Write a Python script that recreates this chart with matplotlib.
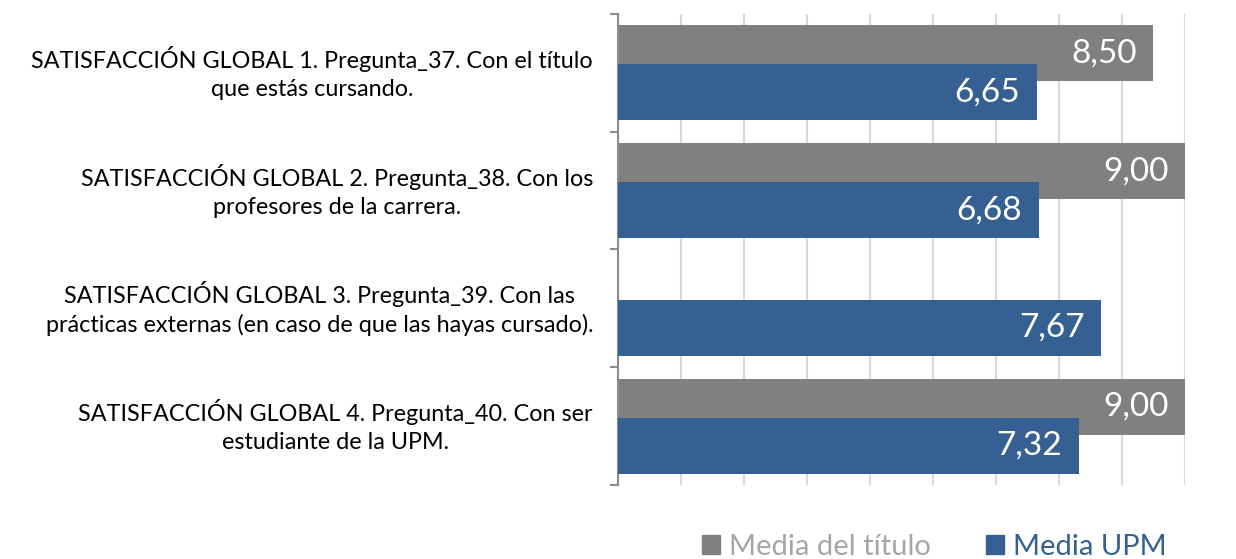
import matplotlib
matplotlib.use('Agg')
import matplotlib.pyplot as plt
from matplotlib.patches import Patch

plt.rcParams['font.family'] = ['Lato', 'DejaVu Sans']

# Data
categories = [
    'SATISFACCIÓN GLOBAL 1. Pregunta_37. Con el título\nque estás cursando.',
    'SATISFACCIÓN GLOBAL 2. Pregunta_38. Con los\nprofesores de la carrera.',
    'SATISFACCIÓN GLOBAL 3. Pregunta_39. Con las\nprácticas externas (en caso de que las hayas cursado).',
    'SATISFACCIÓN GLOBAL 4. Pregunta_40. Con ser\nestudiante de la UPM.',
]
media_titulo = [8.50, 9.00, None, 9.00]
media_upm = [6.65, 6.68, 7.67, 7.32]
series_names = ['Media del título', 'Media UPM']

grey = '#808080'
blue = '#376092'

fig = plt.figure(figsize=(12.36, 5.59), dpi=100)
ax = fig.add_axes([0.5, 0.1324, 0.4587, 0.8426])

off = 0.165
h = 0.475
for i, (t, u) in enumerate(zip(media_titulo, media_upm)):
    if t is not None:
        ax.barh(i - off, t, height=h, color=grey, zorder=2)
        ax.annotate(f'{t:.2f}'.replace('.', ','), xy=(t, i - off),
                    xytext=(-12, 0), textcoords='offset points',
                    ha='right', va='center', color='white', fontsize=24, zorder=4)
    ax.barh(i + off, u, height=h, color=blue, zorder=3)
    ax.annotate(f'{u:.2f}'.replace('.', ','), xy=(u, i + off),
                xytext=(-12, 0), textcoords='offset points',
                ha='right', va='center', color='white', fontsize=24, zorder=4)

for i, lab in enumerate(categories):
    ax.annotate(lab, xy=(0, i), xycoords=('axes fraction', 'data'),
                xytext=(-18, 0), textcoords='offset points',
                ha='right', va='center', multialignment='center',
                fontsize=16.8, color='black', linespacing=1.42)

ax.set_xlim(0, 9)
ax.set_ylim(3.5, -0.5)
ax.set_xticks(range(0, 10))
ax.set_xticklabels([])
ax.tick_params(axis='x', length=0)
ax.set_yticks([-0.5, 0.5, 1.5, 2.5, 3.5])
ax.set_yticklabels([])
ax.tick_params(axis='y', length=6, width=1.5, color='#8c8c8c', direction='out')
ax.grid(axis='x', color='#d9d9d9', linewidth=1.5, zorder=0)
ax.set_axisbelow(True)
for s in ['top', 'right', 'bottom']:
    ax.spines[s].set_visible(False)
ax.spines['left'].set_color('#8c8c8c')
ax.spines['left'].set_linewidth(1.5)

handles = [Patch(color=grey), Patch(color=blue)]
fig.legend(handles, series_names, loc='center', bbox_to_anchor=(0.756, 0.022),
           ncol=2, frameon=False, fontsize=21, labelcolor=['#a6a6a6', blue],
           handlelength=0.62, handleheight=0.62, handletextpad=0.3,
           columnspacing=1.9)

fig.savefig('out.png', dpi=100)
